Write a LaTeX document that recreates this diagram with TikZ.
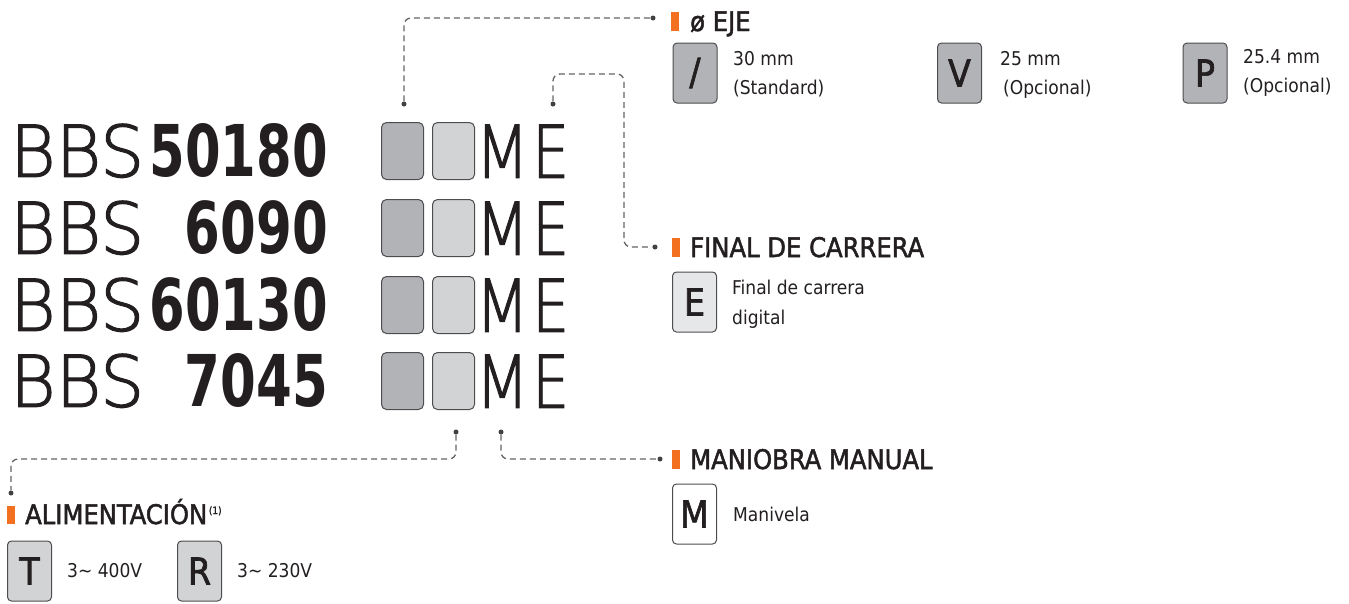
\documentclass[tikz,border=0pt]{standalone}
\usepackage{fontspec}
\setmainfont{DejaVu Sans Condensed}
\newfontfamily\thinfont[FakeBold=1.6]{DejaVu Sans ExtraLight}
\newfontfamily\medfont[FakeBold=1.8]{DejaVu Sans Condensed}
\usetikzlibrary{positioning}

\definecolor{textColour}{HTML}{231F20}
\definecolor{keyBorder}{HTML}{4D4D4F}
\definecolor{keyDark}{HTML}{B1B3B6}
\definecolor{keyLight}{HTML}{D1D3D4}
\definecolor{keyPale}{HTML}{E6E7E8}
\definecolor{leaderColour}{HTML}{636466}
\definecolor{dotColour}{HTML}{414042}
\definecolor{tagColour}{HTML}{F37021}

\tikzset{
  keybox/.style={draw=keyBorder, line width=1pt, rounded corners=4pt,
    minimum width=44pt, minimum height=60pt, inner sep=0pt,
    font=\medfont\fontsize{37}{37}\selectfont, text=textColour},
  slotbox/.style={draw=keyBorder, line width=1pt, rounded corners=5pt,
    minimum width=42pt, minimum height=57pt, inner sep=0pt, anchor=south west},
  bigtext/.style={anchor=south west, inner sep=0pt, text=textColour},
  leader/.style={draw=leaderColour, line width=1.3pt, dash pattern=on 6pt off 4pt,
    rounded corners=7pt},
  enddot/.style={circle, fill=dotColour, inner sep=0pt, minimum size=5pt},
  heading/.style={anchor=base west, inner sep=0pt,
    font=\medfont\fontsize{27}{27}\selectfont, text=textColour},
  note/.style={anchor=base west, inner sep=0pt,
    font=\fontsize{19}{19}\selectfont, text=textColour},
}

\begin{document}
\begin{tikzpicture}[x=1pt, y=-1pt]
    \useasboundingbox (0,0) rectangle (1349,603);

    % Model codes with option slots
    \foreach \base/\num/\w [count=\i] in {178/50180/178, 255/6090/143, 332/60130/178, 408/7045/143} {
        \node[bigtext] (bbs\i) at (10,\base) {\resizebox{134pt}{53pt}{\thinfont BBS}};
        \node[bigtext, anchor=south east] (num\i) at (328,\base) {\resizebox{\w pt}{53pt}{\bfseries\num}};
        \node[slotbox, fill=keyDark] (slotA\i) at (381,{\base+2}) {};
        \node[slotbox, fill=keyLight] (slotB\i) at (432,{\base+2}) {};
        \node[bigtext] (optM\i) at (475,\base) {\resizebox{54pt}{53pt}{\thinfont M}};
        \node[bigtext] (optE\i) at (532,\base) {\resizebox{37pt}{53pt}{\thinfont E}};
    }

    % Leader lines
    \node[enddot] (dotEjeS) at (404,104) {};
    \node[enddot] (dotEjeT) at (653,18) {};
    \draw[leader] (dotEjeS) |- (dotEjeT);

    \node[enddot] (dotFinS) at (553,104) {};
    \node[enddot] (dotFinT) at (655,247) {};
    \coordinate (finBend) at (624,74);
    \draw[leader] (dotFinS) |- (finBend) |- (dotFinT);

    \node[enddot] (dotAliS) at (456,432) {};
    \node[enddot] (dotAliT) at (11,493) {};
    \coordinate (aliBend) at (11,459);
    \draw[leader] (dotAliS) |- (aliBend) -- (dotAliT);

    \node[enddot] (dotManS) at (501,432) {};
    \node[enddot] (dotManT) at (660,459) {};
    \draw[leader] (dotManS) |- (dotManT);

    % Headings
    \fill[tagColour] (671,12) rectangle (679,31);
    \node[heading] (hdEje) at (690,31) {ø EJE};
    \fill[tagColour] (672,238) rectangle (680,257);
    \node[heading] (hdFin) at (690,257) {FINAL DE CARRERA};
    \fill[tagColour] (672,450) rectangle (680,469);
    \node[heading] (hdMan) at (690,469) {MANIOBRA MANUAL};
    \fill[tagColour] (7,506) rectangle (15,524);
    \node[heading] (hdAli) at (25,524) {ALIMENTACIÓN\raisebox{10pt}{\fontsize{10}{10}\selectfont\,(1)}};

    % ø EJE options
    \node[keybox, fill=keyDark] (keySlash) at (695,73) {/};
    \node[note] (noteSlashA) at (733,65) {30 mm};
    \node[note] (noteSlashB) at (733,94) {(Standard)};
    \node[keybox, fill=keyDark] (keyV) at (959.5,73) {V};
    \node[note] (noteVA) at (1000,65) {25 mm};
    \node[note] (noteVB) at (1003,94) {(Opcional)};
    \node[keybox, fill=keyDark] (keyP) at (1205,73) {P};
    \node[note] (notePA) at (1243,63) {25.4 mm};
    \node[note] (notePB) at (1243,92) {(Opcional)};

    % Final de carrera
    \node[keybox, fill=keyPale] (keyE) at (694.5,302) {E};
    \node[note] (noteEA) at (732,294) {Final de carrera};
    \node[note] (noteEB) at (732,324) {digital};

    % Maniobra manual
    \node[keybox, fill=white] (keyM) at (694.5,514) {M};
    \node[note] (noteM) at (733,521) {Manivela};

    % Alimentacion
    \node[keybox, fill=keyLight] (keyT) at (29.5,571) {T};
    \node[note] (noteT) at (67,577) {3\textasciitilde{} 400V};
    \node[keybox, fill=keyLight] (keyR) at (199.5,571) {R};
    \node[note] (noteR) at (237,577) {3\textasciitilde{} 230V};

\end{tikzpicture}
\end{document}
